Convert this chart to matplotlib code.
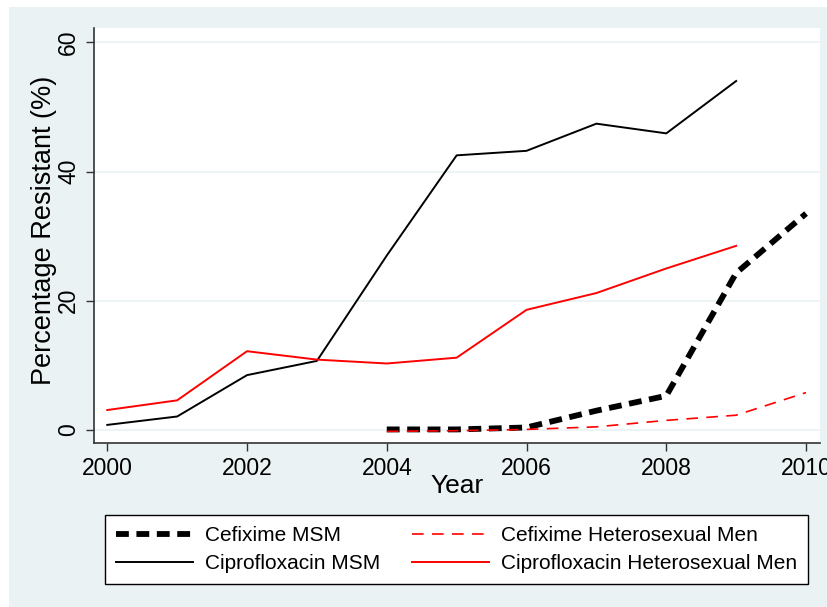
import numpy as np
import matplotlib.pyplot as plt
from matplotlib.patches import Rectangle

plt.rcParams['font.family'] = ['Liberation Sans', 'DejaVu Sans']

# data
years_all = [2000, 2001, 2002, 2003, 2004, 2005, 2006, 2007, 2008, 2009]
cipro_msm = [0.8, 2.1, 8.5, 10.7, 27.0, 42.5, 43.2, 47.4, 45.9, 54.0]
cipro_het = [3.1, 4.6, 12.2, 10.9, 10.3, 11.2, 18.6, 21.2, 25.0, 28.5]

years_cef = [2004, 2005, 2006, 2007, 2008, 2009, 2010]
cef_msm = [0.1, 0.1, 0.4, 3.0, 5.3, 24.3, 33.5]
cef_het = [-0.2, -0.1, 0.1, 0.5, 1.5, 2.3, 5.8]

W, H = 827, 607
eggshell = '#EAF2F3'

fig = plt.figure(figsize=(W / 100, H / 100), dpi=100, facecolor='white')
fig.patches.append(Rectangle((9 / W, 0), 1 - 9 / W, 1 - 7 / H, transform=fig.transFigure,
                             facecolor=eggshell, edgecolor='none', zorder=-10))

ax = fig.add_axes([94 / W, 1 - 443 / H, (820 - 94) / W, (443 - 28) / H])
ax.set_facecolor('white')

ax.plot(years_cef, cef_msm, color='black', lw=4.2, ls=(0, (2.2, 1.3)), label='Cefixime MSM')
ax.plot(years_cef, cef_het, color='red', lw=1.2, ls=(0, (7, 5)), label='Cefixime Heterosexual Men')
ax.plot(years_all, cipro_msm, color='black', lw=1.4, label='Ciprofloxacin MSM')
ax.plot(years_all, cipro_het, color='red', lw=1.4, label='Ciprofloxacin Heterosexual Men')

ax.set_xlim(1999.81, 2010.2)
ax.set_ylim(-2.0, 62.2)
ax.set_xticks(range(2000, 2011, 2))
ax.set_yticks([0, 20, 40, 60])
ax.yaxis.grid(True, color=eggshell, lw=1.2, zorder=0)
ax.set_axisbelow(True)

for s in ['top', 'right']:
    ax.spines[s].set_visible(False)
for s in ['left', 'bottom']:
    ax.spines[s].set_color('#333333')
    ax.spines[s].set_linewidth(1.2)

ax.tick_params(axis='both', direction='out', length=6, width=1, color='#333333',
               labelsize=16.5, pad=4)
plt.setp(ax.get_yticklabels(), rotation=90, va='center')

ax.set_xlabel('Year', fontsize=19)
ax.xaxis.set_label_coords(0.5, (443 - 474) / 415)
ax.set_ylabel('Percentage Resistant (%)', fontsize=19.5)
ax.yaxis.set_label_coords((57 - 94) / 726, (443 - 230) / 415)

h = {l.get_label(): l for l in ax.get_lines()}
order = ['Cefixime MSM', 'Ciprofloxacin MSM', 'Cefixime Heterosexual Men',
         'Ciprofloxacin Heterosexual Men']
leg = fig.legend([h[k] for k in order], order, ncol=2, loc='center',
                 bbox_to_anchor=(456.5 / W, 1 - 549.5 / H), fontsize=15,
                 frameon=True, fancybox=False, edgecolor='black', framealpha=1,
                 handlelength=3.7, handletextpad=0.6, columnspacing=1.5,
                 labelspacing=0.45, borderpad=0.5)
leg.get_frame().set_linewidth(1.0)

fig.savefig('out.png', dpi=100, facecolor=fig.get_facecolor())
